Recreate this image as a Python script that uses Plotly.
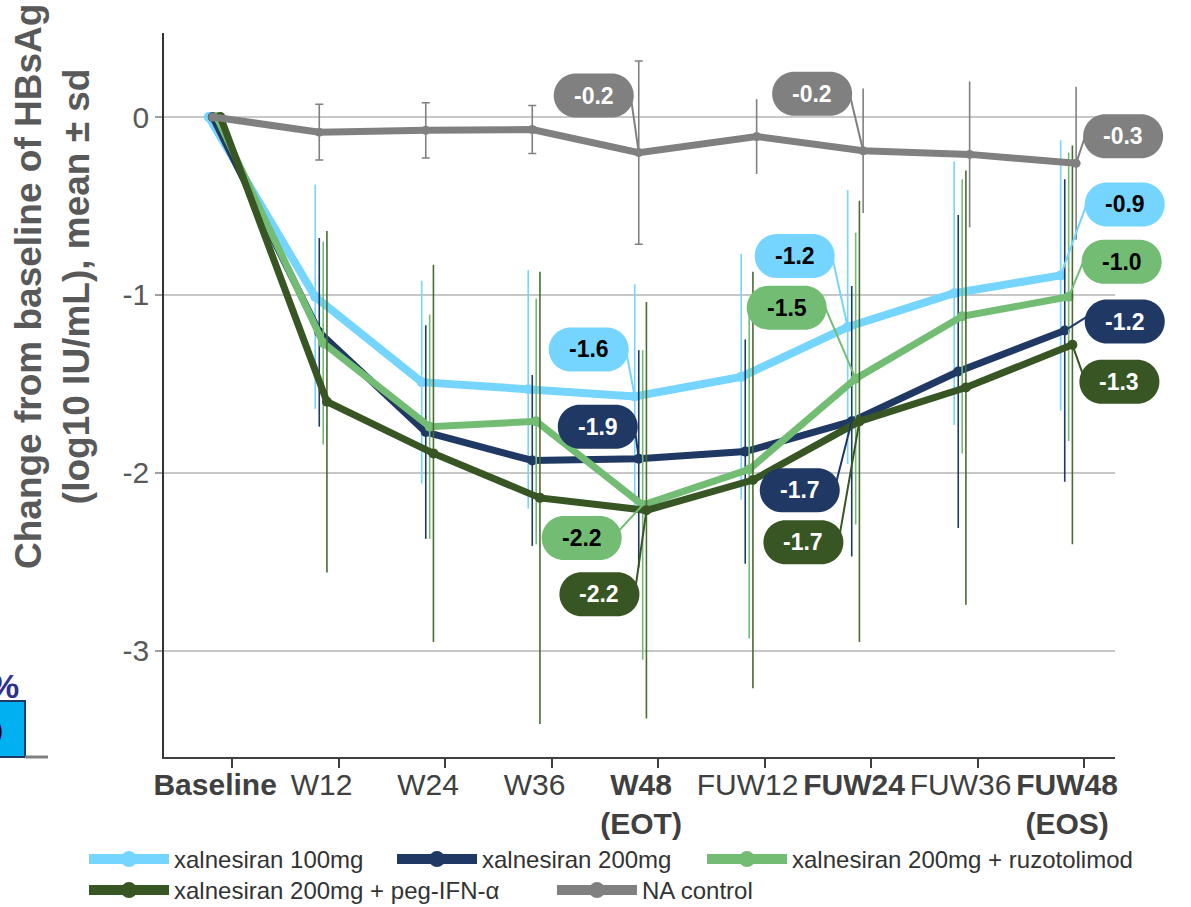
import plotly.graph_objects as go

# ---- data -------------------------------------------------------------
categories = ["Baseline", "W12", "W24", "W36", "W48<br>(EOT)",
              "FUW12", "FUW24", "FUW36", "FUW48<br>(EOS)"]
bold_ticks = [True, False, False, False, True, False, True, False, True]

series_names = ["xalnesiran 100mg", "xalnesiran 200mg",
                "xalnesiran 200mg + ruzotolimod",
                "xalnesiran 200mg + peg-IFN-\u03b1", "NA control"]

mean_100mg = [0, -1.01, -1.49, -1.53, -1.57, -1.46, -1.18, -0.99, -0.89]
sd_100mg = [0, 0.63, 0.57, 0.67, 0.63, 0.69, 0.77, 0.74, 0.76]

mean_200mg = [0, -1.21, -1.77, -1.93, -1.92, -1.88, -1.71, -1.43, -1.20]
sd_200mg = [0, 0.53, 0.60, 0.48, 0.61, 0.63, 0.76, 0.88, 0.85]

mean_ruzo = [0, -1.27, -1.74, -1.71, -2.18, -1.98, -1.47, -1.12, -1.01]
sd_ruzo = [0, 0.57, 0.63, 0.69, 0.87, 0.95, 0.82, 0.77, 0.81]

mean_peg = [0, -1.60, -1.89, -2.14, -2.21, -2.04, -1.71, -1.52, -1.28]
sd_peg = [0, 0.96, 1.06, 1.27, 1.17, 1.17, 1.24, 1.22, 1.12]

mean_na = [0, -0.085, -0.075, -0.07, -0.20, -0.11, -0.19, -0.21, -0.26]
sd_na = [0, 0.157, 0.155, 0.135, 0.515, 0.21, 0.35, 0.41, 0.43]

labelled_points = [4, 6, 8]   # W48 (EOT), FUW24, FUW48 (EOS)

# ---- style ------------------------------------------------------------
colors = ["#75D5FF", "#1F3864", "#72BD73", "#375623", "#808080"]
label_text_colors = ["#000000", "#FFFFFF", "#000000", "#FFFFFF", "#FFFFFF"]
line_widths = [8, 7, 7, 7, 7]
err_colors = ["#75D5FF", "#1F3864", "#72BD73", "#4A6B33", "#808080"]
# horizontal dodge of each series around its category (category units)
dodge = [[-0.06] * 9, [-0.022] * 9, [0.015] * 9, [0.05] * 9,
         [-0.022] * 5 + [0.085] * 4]
# value-box centre offsets from their point, in screen pixels (dx, dy down)
box_offsets = [
    [(-46, -47), (-53, -71), (64, -71)],
    [(-41, -32), (-52, 69), (60, -9)],
    [(-61, 33), (-69, -71), (53, -35)],
    [(-47, 84), (-56, 121), (47, 37)],
    [(-45, -57), (-51, -57), (47, -27)],
]
BOX_W, BOX_H = 80, 44

# legend placement: (legend id, left edge px, top edge px)
legend_slots = [("legend", 84, 837), ("legend4", 392, 837),
                ("legend5", 702, 837), ("legend2", 84, 868),
                ("legend3", 552, 868)]

means = [mean_100mg, mean_200mg, mean_ruzo, mean_peg, mean_na]
sds = [sd_100mg, sd_200mg, sd_ruzo, sd_peg, sd_na]

AX_GRAY = "#404040"
TXT_GRAY = "#595959"
BASE_FONT = "Liberation Sans, Arial, sans-serif"
LEGEND_FONT = dict(family="Liberation Sans, Arial, sans-serif", size=24,
                   color="#333333")

X_RANGE = [-0.48, 8.45]
Y_RANGE = [-3.596, 0.472]
PW, PH, PL, PB = 951, 724, 164, 757


def frac_x(v):
    return (v - X_RANGE[0]) / (X_RANGE[1] - X_RANGE[0])


def frac_y(v):
    return (v - Y_RANGE[0]) / (Y_RANGE[1] - Y_RANGE[0])


def px_x(px):
    return (px - PL) / PW


def px_y(py):
    return (PB - py) / PH


fig = go.Figure()

for s in range(5):
    xs = [i + dodge[s][i] for i in range(len(categories))]
    if s < 4:
        fig.add_trace(go.Scatter(
            x=xs, y=means[s], mode="lines+markers",
            line=dict(color=colors[s], width=line_widths[s]),
            marker=dict(color=colors[s], size=10),
            error_y=dict(type="data", array=sds[s], visible=True,
                         color=err_colors[s], thickness=1.6, width=0),
            showlegend=False, hoverinfo="skip"))
    else:
        # control arm: capped bars on treatment visits, plain bars in follow-up
        fig.add_trace(go.Scatter(
            x=xs[1:5], y=means[s][1:5], mode="markers",
            marker=dict(color=colors[s], size=1),
            error_y=dict(type="data", array=sds[s][1:5], visible=True,
                         color=err_colors[s], thickness=1.6, width=4),
            showlegend=False, hoverinfo="skip"))
        fig.add_trace(go.Scatter(
            x=xs[5:], y=means[s][5:], mode="markers",
            marker=dict(color=colors[s], size=1),
            error_y=dict(type="data", array=sds[s][5:], visible=True,
                         color=err_colors[s], thickness=1.6, width=0),
            showlegend=False, hoverinfo="skip"))
        fig.add_trace(go.Scatter(
            x=xs, y=means[s], mode="lines+markers",
            line=dict(color=colors[s], width=line_widths[s]),
            marker=dict(color=colors[s], size=9),
            showlegend=False, hoverinfo="skip"))

# legend entries, one legend box per entry so each sits at its own spot
legend_layout = {}
for s in range(5):
    lid, lx, ly = legend_slots[s]
    fig.add_trace(go.Scatter(
        x=[None], y=[None], mode="lines+markers", name=series_names[s],
        line=dict(color=colors[s], width=10),
        marker=dict(color=colors[s], size=16),
        legend=lid))
    legend_layout[lid] = dict(orientation="h", x=px_x(lx), y=px_y(ly),
                              xanchor="left", yanchor="top", itemwidth=80,
                              font=LEGEND_FONT, bgcolor="rgba(0,0,0,0)")


def pill(cx, cy, w, h):
    r = h / 2
    k = 0.5523 * r
    x0, x1 = cx - w / 2, cx + w / 2
    y0, y1 = cy - h / 2, cy + h / 2
    return (f"M{x0 + r},{y1} L{x1 - r},{y1} "
            f"C{x1 - r + k},{y1} {x1},{cy + k} {x1},{cy} "
            f"C{x1},{cy - k} {x1 - r + k},{y0} {x1 - r},{y0} "
            f"L{x0 + r},{y0} "
            f"C{x0 + r - k},{y0} {x0},{cy - k} {x0},{cy} "
            f"C{x0},{cy + k} {x0 + r - k},{y1} {x0 + r},{y1} Z")


shapes = []
annotations = []
for s in range(5):
    for j, i in enumerate(labelled_points):
        xp = i + dodge[s][i]
        yp = means[s][i]
        dx, dy = box_offsets[s][j]
        cy = -dy  # pixel paths measure y upward
        end_x = dx + (BOX_W / 2 - 4) * (1 if dx < 0 else -1)
        end_y = cy + 6
        common = dict(type="path", xref="paper", yref="paper",
                      xsizemode="pixel", ysizemode="pixel",
                      xanchor=frac_x(xp), yanchor=frac_y(yp), layer="above")
        shapes.append(dict(common, path=f"M0,0 L{end_x},{end_y}",
                           line=dict(color=colors[s], width=2)))
        shapes.append(dict(common, path=pill(dx, cy, BOX_W, BOX_H),
                           fillcolor=colors[s], line=dict(width=0)))
        annotations.append(dict(
            x=xp, y=yp, xref="x", yref="y", showarrow=False,
            xshift=dx, yshift=cy,
            text=f"<b>{yp:.1f}</b>",
            font=dict(family="Liberation Sans, Arial", size=23,
                      color=label_text_colors[s])))

# y-axis title
annotations.append(dict(
    x=px_x(52), y=px_y(287), xref="paper", yref="paper", showarrow=False,
    xanchor="center", yanchor="middle", textangle=-90,
    text="<b>Change from baseline of HBsAg<br>(log10 IU/mL), mean \u00b1 sd</b>",
    font=dict(family=BASE_FONT, size=37, color=TXT_GRAY)))

# neighbouring panel edge
shapes.append(dict(type="rect", xref="paper", yref="paper",
                   x0=px_x(-6), x1=px_x(25), y0=px_y(757), y1=px_y(701),
                   fillcolor="#00B0F0", line=dict(color="#1F3864", width=2),
                   layer="above"))
shapes.append(dict(type="line", xref="paper", yref="paper",
                   x0=px_x(25), x1=px_x(48), y0=px_y(757), y1=px_y(757),
                   line=dict(color="#808080", width=3)))
annotations.append(dict(x=px_x(4), y=px_y(686), xref="paper", yref="paper",
                        showarrow=False, text="<b>%</b>",
                        xanchor="center", yanchor="middle",
                        font=dict(family=BASE_FONT, size=34, color="#2E3192")))
annotations.append(dict(x=px_x(-2), y=px_y(729), xref="paper", yref="paper",
                        showarrow=False, text=")",
                        xanchor="center", yanchor="middle",
                        font=dict(family=BASE_FONT, size=28, color="#000000")))

ticktext = [f"<b>{c}</b>" if b else c for c, b in zip(categories, bold_ticks)]

fig.update_layout(
    width=1191, height=907,
    margin=dict(l=PL, r=1191 - PL - PW, t=33, b=907 - PB, autoexpand=False),
    plot_bgcolor="white", paper_bgcolor="white",
    font=dict(family=BASE_FONT, color=AX_GRAY),
    xaxis=dict(range=X_RANGE, tickvals=list(range(len(categories))),
               ticktext=ticktext, ticks="",
               tickfont=dict(size=30, color=AX_GRAY),
               showgrid=False, zeroline=False, showline=True,
               linecolor=AX_GRAY, linewidth=2),
    xaxis2=dict(range=X_RANGE, overlaying="x", anchor="y",
                side="bottom",
                tickvals=[i + 0.16 for i in range(len(categories))],
                ticks="outside", ticklen=10, tickwidth=1.5,
                tickcolor=AX_GRAY, showticklabels=False,
                showgrid=False, zeroline=False, showline=False),
    yaxis=dict(range=Y_RANGE, tickvals=[0, -1, -2, -3],
               ticktext=["0", "-1", "-2", "-3"],
               ticks="outside", ticklen=7, tickwidth=1.5, tickcolor="#A0A0A0",
               tickfont=dict(size=30, color=TXT_GRAY),
               showgrid=True, gridcolor="#C8C8C8", gridwidth=1.5,
               zeroline=False, showline=True, linecolor="#333333",
               linewidth=1.5),
    shapes=shapes,
    annotations=annotations,
    **legend_layout,
)

# dummy trace to activate the tick-mark axis
fig.add_trace(go.Scatter(x=[None], y=[None], xaxis="x2", showlegend=False))

fig.write_html("out.html")
